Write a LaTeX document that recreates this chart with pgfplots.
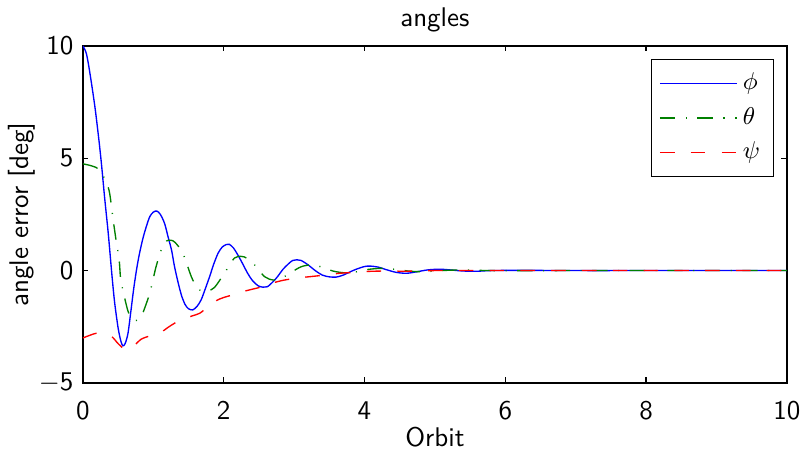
\documentclass[border=0pt]{standalone}
\usepackage{pgfplots}
\pgfplotsset{compat=1.18}
\usetikzlibrary{calc}
\definecolor{mblue}{rgb}{0,0,1}
\definecolor{mgreen}{rgb}{0,0.5,0}
\definecolor{mred}{rgb}{1,0,0}
\begin{document}
\begin{tikzpicture}
\begin{axis}[name=ax,
  scale only axis, width=260.7pt, height=124.8pt,
  xmin=0, xmax=10, ymin=-5, ymax=10,
  xtick={0,2,4,6,8,10}, ytick={-5,0,5,10},
  xticklabels={0,2,4,6,8,10}, yticklabels={$-$5,0,5,10},
  ticklabel style={font=\sffamily},
  xticklabel style={yshift=-3.3pt},
  label style={font=\sffamily},
  every axis title shift=0pt,
  title style={font=\sffamily, at={(axis description cs:0.5,1.059)}, anchor=base},
  xlabel style={at={(axis description cs:0.5,-0.189)}, anchor=base},
  ylabel style={at={(axis description cs:-0.087,0.5)}, anchor=center},
  title={angles}, xlabel={Orbit}, ylabel={angle error [deg]},
  tick align=inside, major tick length=2pt,
  axis line style={line width=0.5pt},
  every tick/.style={black, line width=0.5pt},
  legend cell align=left,
  legend image code/.code={\draw[white, line width=0.1pt] (0pt,0pt) -- (0.1pt,0pt); \draw[#1] (0pt,0pt) -- (28.5pt,0pt);},
  legend style={at={(0.982,0.961)}, anchor=north east, row sep=1pt, inner sep=3pt},
]
\addplot[color=mblue, line width=0.5pt, smooth] coordinates {
(0,10) (0.05,9.65) (0.1,8.78) (0.17,7.3) (0.227,5.82) (0.265,4.7) (0.31,3.2) (0.36,1.66)
(0.41,-0.12) (0.45,-1.4) (0.50,-2.55) (0.54,-3.15) (0.568,-3.35) (0.60,-3.25) (0.64,-2.8)
(0.68,-1.85) (0.72,-0.85) (0.76,0.0) (0.80,0.7) (0.85,1.4) (0.90,1.95) (0.95,2.4) (1.00,2.6) (1.05,2.65)
(1.10,2.5) (1.16,2.1) (1.21,1.5) (1.26,0.9) (1.30,0.2) (1.35,-0.5) (1.40,-1.1) (1.45,-1.5)
(1.50,-1.7) (1.56,-1.75) (1.62,-1.6) (1.68,-1.3) (1.74,-0.8) (1.80,-0.27) (1.86,0.3)
(1.92,0.77) (1.98,1.05) (2.04,1.16) (2.08,1.17) (2.14,1.0) (2.20,0.70) (2.27,0.3)
(2.34,-0.12) (2.41,-0.45) (2.49,-0.68) (2.56,-0.74) (2.62,-0.72) (2.70,-0.5) (2.77,-0.25)
(2.84,0.05) (2.92,0.3) (2.98,0.45) (3.04,0.48) (3.10,0.45) (3.20,0.25) (3.30,0.0)
(3.40,-0.2) (3.50,-0.28) (3.60,-0.29) (3.70,-0.2) (3.80,-0.05) (3.90,0.08) (4.00,0.18)
(4.08,0.2) (4.20,0.15) (4.30,0.05) (4.45,-0.08) (4.60,-0.12) (4.75,-0.05) (4.90,0.03)
(5.07,0.06) (5.25,0.02) (5.40,-0.02) (5.6,-0.03) (5.8,0) (6.2,0.01) (7,0) (8,0) (9,0) (10,0)
};
\addlegendentry{\small$\phi$}
\addplot[color=mgreen, line width=0.5pt, smooth, dash pattern=on 5.7pt off 3.9pt on 0.4pt off 3.9pt] coordinates {
(0,4.75) (0.123,4.66) (0.24,4.48) (0.336,3.89) (0.38,3.44) (0.43,2.26) (0.47,1.37)
(0.515,0.48) (0.535,-0.34) (0.57,-0.9) (0.64,-1.8) (0.70,-2.15) (0.76,-2.22) (0.81,-2.1)
(0.85,-1.9) (0.95,-1.0)
(1.04,0.18) (1.13,1.07) (1.19,1.32) (1.25,1.35) (1.31,1.25) (1.42,0.77) (1.54,-0.27)
(1.62,-0.75) (1.70,-0.93) (1.78,-0.9) (1.87,-0.75) (2.01,-0.12) (2.15,0.55) (2.25,0.63)
(2.33,0.55) (2.44,0.25) (2.58,-0.27) (2.70,-0.42) (2.80,-0.38) (2.95,-0.1) (3.1,0.17)
(3.25,0.25) (3.40,0.15) (3.55,-0.02) (3.72,-0.1) (3.9,-0.05) (4.05,0.05) (4.25,0.1)
(4.45,0.05) (4.65,-0.03) (4.85,-0.05) (5.1,0) (5.4,0.03) (5.8,0) (7,0) (8,0) (9,0) (10,0)
};
\addlegendentry{\small$\theta$}
\addplot[color=mred, line width=0.5pt, smooth, dash pattern=on 5.4pt off 6pt] coordinates {
(0,-3.0) (0.1,-2.88) (0.19,-2.79) (0.3,-2.8) (0.41,-2.94) (0.5,-3.25) (0.6,-3.52)
(0.67,-3.45) (0.74,-3.3) (0.83,-3.05) (0.92,-2.94) (1.0,-2.86) (1.1,-2.77) (1.2,-2.55)
(1.31,-2.33) (1.45,-2.15) (1.55,-2.02) (1.66,-1.9) (1.78,-1.6) (1.9,-1.33) (2.0,-1.2)
(2.13,-1.08) (2.28,-0.93) (2.42,-0.82) (2.56,-0.71) (2.7,-0.55) (2.85,-0.43) (3.03,-0.34)
(3.2,-0.28) (3.35,-0.23) (3.51,-0.17) (3.65,-0.12) (3.8,-0.09) (4.03,-0.04) (4.3,-0.02)
(4.6,-0.03) (5.0,0.0) (6,0) (7,0) (8,0) (9,0) (10,0)
};
\addlegendentry{\small$\psi$}
\end{axis}
\pgfresetboundingbox
\path ($(ax.south west)+(-30.7pt,-25.6pt)$) rectangle ($(ax.north east)+(5.6pt,17pt)$);
\end{tikzpicture}
\end{document}
